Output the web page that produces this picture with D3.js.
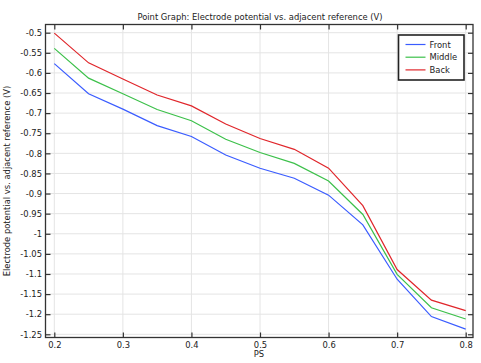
<!DOCTYPE html>
<html>
<head>
<meta charset="utf-8">
<script src="https://cdn.jsdelivr.net/npm/d3@7"></script>
<style>
  body { margin: 0; background: #fff; }
  text { font-family: "DejaVu Sans", sans-serif; fill: #222; }
</style>
</head>
<body>
<script>
// PS values along the x axis
const ps = [0.2, 0.25, 0.3, 0.35, 0.4, 0.45, 0.5, 0.55, 0.6, 0.65, 0.7, 0.75, 0.8];

// Electrode potential (V) for each position
const front  = [-0.577, -0.652, -0.690, -0.731, -0.758, -0.804, -0.837, -0.862, -0.904, -0.978, -1.113, -1.206, -1.237];
const middle = [-0.539, -0.613, -0.652, -0.691, -0.719, -0.765, -0.798, -0.825, -0.869, -0.952, -1.101, -1.184, -1.212];
const back   = [-0.501, -0.575, -0.615, -0.655, -0.682, -0.727, -0.763, -0.790, -0.837, -0.930, -1.089, -1.165, -1.191];

const seriesNames = ["Front", "Middle", "Back"];
const seriesColors = ["#3a5cff", "#3cc04a", "#e0262b"];
const seriesValues = [front, middle, back];

const xTicks = [0.2, 0.3, 0.4, 0.5, 0.6, 0.7, 0.8];
const yTicks = [-0.5, -0.55, -0.6, -0.65, -0.7, -0.75, -0.8, -0.85, -0.9, -0.95, -1, -1.05, -1.1, -1.15, -1.2, -1.25];

const W = 481, H = 363;
const pLeft = 45.5, pRight = 473, pTop = 24.5, pBottom = 337.5;
const fs = 8.4;

const svg = d3.select("body").append("svg")
    .attr("width", W)
    .attr("height", H);

// scales: pixel spots of ticks
const x = d3.scaleLinear().domain([0.2, 0.8]).range([54.3, 465.7]);
const y = d3.scaleLinear().domain([-0.5, -1.25]).range([32.7, 334.3]);

// grid
svg.append("g").selectAll("line")
    .data(xTicks)
    .enter().append("line")
    .attr("x1", d => x(d)).attr("x2", d => x(d))
    .attr("y1", pTop).attr("y2", pBottom)
    .attr("stroke", "#e4e4e4").attr("stroke-width", 1);

svg.append("g").selectAll("line")
    .data(yTicks)
    .enter().append("line")
    .attr("x1", pLeft).attr("x2", pRight)
    .attr("y1", d => y(d)).attr("y2", d => y(d))
    .attr("stroke", "#e4e4e4").attr("stroke-width", 1);

// lines
const line = d3.line()
    .x((d, i) => x(ps[i]))
    .y(d => y(d));

svg.append("g").selectAll("path")
    .data(seriesValues)
    .enter().append("path")
    .attr("d", d => line(d))
    .attr("fill", "none")
    .attr("stroke", (d, i) => seriesColors[i])
    .attr("stroke-width", 1.2);

// frame
svg.append("rect")
    .attr("x", pLeft).attr("y", pTop)
    .attr("width", pRight - pLeft).attr("height", pBottom - pTop)
    .attr("fill", "none")
    .attr("stroke", "#333").attr("stroke-width", 1.3);

// axes with inward ticks
const fmt = d => String(d);
const bottomAxis = svg.append("g")
    .attr("transform", `translate(0,${pBottom})`)
    .call(d3.axisBottom(x).tickValues(xTicks).tickSize(-5).tickPadding(5).tickFormat(fmt));
const topAxis = svg.append("g")
    .attr("transform", `translate(0,${pTop})`)
    .call(d3.axisTop(x).tickValues(xTicks).tickSize(-5).tickFormat(""));
const leftAxis = svg.append("g")
    .attr("transform", `translate(${pLeft},0)`)
    .call(d3.axisLeft(y).tickValues(yTicks).tickSize(-5).tickPadding(3.5).tickFormat(fmt));
const rightAxis = svg.append("g")
    .attr("transform", `translate(${pRight},0)`)
    .call(d3.axisRight(y).tickValues(yTicks).tickSize(-5).tickFormat(""));

[bottomAxis, topAxis, leftAxis, rightAxis].forEach(a => {
    a.select(".domain").remove();
    a.selectAll(".tick line").attr("stroke", "#333").attr("stroke-width", 1.2);
    a.selectAll("text").attr("font-size", fs).attr("fill", "#222")
        .attr("font-family", "DejaVu Sans, sans-serif");
});

// title and axis labels
svg.append("text")
    .attr("x", 260).attr("y", 19.5)
    .attr("text-anchor", "middle")
    .attr("font-size", fs)
    .text("Point Graph: Electrode potential vs. adjacent reference (V)");

svg.append("text")
    .attr("x", 259).attr("y", 357)
    .attr("text-anchor", "middle")
    .attr("font-size", fs)
    .text("PS");

svg.append("text")
    .attr("transform", "translate(10,181) rotate(-90)")
    .attr("text-anchor", "middle")
    .attr("font-size", fs)
    .text("Electrode potential vs. adjacent reference (V)");

// legend
const lg = svg.append("g");
lg.append("rect")
    .attr("x", 398.5).attr("y", 35)
    .attr("width", 65.5).attr("height", 45)
    .attr("fill", "#fff")
    .attr("stroke", "#222").attr("stroke-width", 1.6);

const items = lg.selectAll("g.item")
    .data(seriesNames)
    .enter().append("g")
    .attr("class", "item")
    .attr("transform", (d, i) => `translate(0,${44.5 + i * 12.7})`);

items.append("line")
    .attr("x1", 405.5).attr("x2", 425.5)
    .attr("stroke", (d, i) => seriesColors[i])
    .attr("stroke-width", 1.2);

items.append("text")
    .attr("x", 429.5).attr("y", 3)
    .attr("font-size", fs)
    .text(d => d);
</script>
</body>
</html>
